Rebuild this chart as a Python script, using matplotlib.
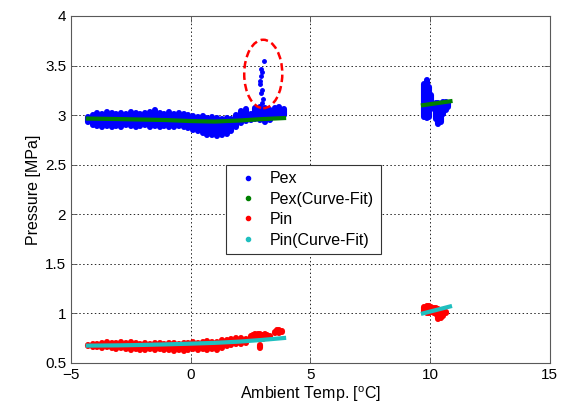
import matplotlib
matplotlib.use("Agg")
import numpy as np
import matplotlib.pyplot as plt
from matplotlib.patches import Ellipse
from matplotlib.lines import Line2D

plt.rcParams['font.family'] = ['Liberation Sans', 'DejaVu Sans']
plt.rcParams['mathtext.fontset'] = 'custom'
plt.rcParams['mathtext.rm'] = 'Liberation Sans'

# Pex measurements: columns of the scatter cloud (x, lower edge, upper edge)
pex_x = [-4.3, -4.1, -3.9, -3.7, -3.5, -3.3, -3.1, -2.9, -2.7, -2.5, -2.3, -2.1,
         -1.9, -1.7, -1.5, -1.3, -1.1, -0.9, -0.7, -0.5, -0.3, -0.1, 0.1, 0.3,
         0.5, 0.7, 0.9, 1.1, 1.3, 1.5, 1.7, 1.9, 2.1, 2.3, 2.5, 2.7, 2.9, 3.1,
         3.3, 3.5, 3.7, 3.9,
         9.75, 9.85, 9.95, 10.05, 10.15, 10.25, 10.35, 10.45, 10.55, 10.65, 10.75]
pex_lo = [2.93, 2.90, 2.89, 2.88, 2.89, 2.88, 2.89, 2.88, 2.90, 2.89, 2.88, 2.89,
          2.90, 2.88, 2.89, 2.88, 2.89, 2.88, 2.88, 2.89, 2.88, 2.87, 2.85, 2.84,
          2.82, 2.80, 2.80, 2.79, 2.80, 2.81, 2.84, 2.88, 2.92, 2.94, 2.95, 2.96,
          2.95, 2.93, 2.95, 2.98, 2.98, 3.00,
          2.98, 2.97, 2.98, 3.06, 3.07, 2.96, 2.91, 2.93, 3.01, 3.05, 3.08]
pex_hi = [2.98, 3.00, 3.02, 3.01, 3.03, 3.02, 3.01, 3.02, 3.01, 3.03, 3.02, 3.01,
          3.02, 3.03, 3.05, 3.02, 3.01, 3.03, 3.01, 3.02, 3.01, 3.00, 2.99, 2.98,
          2.99, 2.97, 2.98, 2.97, 2.96, 2.97, 2.96, 3.00, 3.04, 3.06, 3.01, 3.07,
          3.08, 3.07, 3.05, 3.07, 3.08, 3.06,
          3.31, 3.35, 3.28, 3.20, 3.11, 3.12, 3.12, 3.11, 3.13, 3.13, 3.12]

# Pex outliers (circled)
pex_out_x = [3.06, 2.95, 2.97, 2.94, 2.90, 2.88, 2.97, 2.95, 3.00, 2.97]
pex_out_y = [3.55, 3.47, 3.43, 3.39, 3.34, 3.31, 3.25, 3.22, 3.16, 3.12]

# Pex curve fit
pexfit_x = [-4.3, -3.0, -2.0, -1.0, 0.0, 1.0, 2.0, 3.0, 3.9, np.nan, 9.7, 10.85]
pexfit_y = [2.965, 2.96, 2.955, 2.95, 2.94, 2.935, 2.945, 2.96, 2.97, np.nan, 3.10, 3.14]

# Pin measurements
pin_x = [-4.3, -4.1, -3.9, -3.7, -3.5, -3.3, -3.1, -2.9, -2.7, -2.5, -2.3, -2.1,
         -1.9, -1.7, -1.5, -1.3, -1.1, -0.9, -0.7, -0.5, -0.3, -0.1, 0.1, 0.3,
         0.5, 0.7, 0.9, 1.1, 1.3, 1.5, 1.7, 1.9, 2.1, 2.3,
         2.5, 2.6, 2.7, 2.8, 2.9, 3.0, 3.1, 3.2, 3.3, 2.9, 3.5, 3.6, 3.7, 3.8,
         9.75, 9.85, 9.95, 10.05, 10.15, 10.25, 10.35, 10.45, 10.55, 10.65]
pin_lo = [0.67, 0.66, 0.66, 0.65, 0.66, 0.65, 0.64, 0.65, 0.64, 0.63, 0.64, 0.63,
          0.63, 0.64, 0.63, 0.64, 0.63, 0.63, 0.62, 0.63, 0.62, 0.63, 0.64, 0.63,
          0.64, 0.63, 0.64, 0.63, 0.65, 0.67, 0.68, 0.69, 0.69, 0.70,
          0.75, 0.74, 0.75, 0.76, 0.75, 0.74, 0.75, 0.76, 0.76, 0.65, 0.80, 0.81, 0.80, 0.81,
          1.01, 1.00, 1.00, 1.01, 1.00, 0.99, 0.94, 0.95, 0.97, 1.00]
pin_hi = [0.68, 0.69, 0.69, 0.70, 0.71, 0.70, 0.70, 0.71, 0.70, 0.71, 0.70, 0.69,
          0.70, 0.69, 0.70, 0.70, 0.69, 0.70, 0.70, 0.69, 0.70, 0.70, 0.71, 0.70,
          0.71, 0.72, 0.71, 0.71, 0.73, 0.73, 0.74, 0.75, 0.75, 0.74,
          0.77, 0.78, 0.79, 0.79, 0.79, 0.78, 0.79, 0.78, 0.77, 0.68, 0.81, 0.83, 0.83, 0.82,
          1.06, 1.07, 1.07, 1.06, 1.05, 1.05, 1.04, 1.03, 1.02, 1.01]

# Pin curve fit
pinfit_x = [-4.3, -3.0, -2.0, -1.0, 0.0, 1.0, 2.0, 3.0, 3.9, np.nan, 9.7, 10.83]
pinfit_y = [0.675, 0.678, 0.682, 0.688, 0.695, 0.703, 0.715, 0.733, 0.752, np.nan, 1.00, 1.07]

# Circled outlier region
circ_center = (3.03, 3.415)
circ_w, circ_h = 1.59, 0.69

blue, green, red, cyan = '#0000ff', '#008000', '#ff0000', '#1fbfbf'

fig = plt.figure(figsize=(5.68, 4.09), dpi=100)
ax = fig.add_axes([0.125, 0.1125, 0.843, 0.8485])

ax.vlines(pex_x, pex_lo, pex_hi, colors=blue, lw=4.4, capstyle='round', zorder=2)
ax.plot(pex_out_x, pex_out_y, '.', color=blue, ms=5, zorder=2)
ax.plot(pexfit_x, pexfit_y, '-', color=green, lw=3, zorder=3)
ax.vlines(pin_x, pin_lo, pin_hi, colors=red, lw=4.4, capstyle='round', zorder=2)
ax.plot(pinfit_x, pinfit_y, '-', color=cyan, lw=3, zorder=3)

ax.add_patch(Ellipse(circ_center, circ_w, circ_h, fill=False, ec=red,
                     lw=1.8, ls=(0, (3, 1.6)), zorder=4))

ax.set_xlim(-5, 15)
ax.set_ylim(0.5, 4)
ax.set_xticks([-5, 0, 5, 10, 15])
ax.set_yticks([0.5, 1, 1.5, 2, 2.5, 3, 3.5, 4])
ax.set_yticklabels(['0.5', '1', '1.5', '2', '2.5', '3', '3.5', '4'])
ax.tick_params(direction='in', top=True, right=True, length=4, width=0.6,
               labelsize=11, color='0.3')
ax.grid(True, color='0.15', ls=(0, (1.5, 2.5)), lw=0.7)
for s in ax.spines.values():
    s.set_color('0.35')
    s.set_linewidth(0.8)

ax.set_xlabel(r'Ambient Temp. [$^{\rm o}$C]', fontsize=11.5, labelpad=2)
ax.set_ylabel('Pressure [MPa]', fontsize=11.5, labelpad=3)

handles = [Line2D([], [], ls='none', marker='.', ms=6, color=c)
           for c in (blue, green, red, cyan)]
leg = ax.legend(handles, ['Pex', 'Pex(Curve-Fit)', 'Pin', 'Pin(Curve-Fit)'],
                loc='upper left', bbox_to_anchor=(0.324, 0.571), fontsize=11.5,
                fancybox=False, framealpha=1, edgecolor='0.2',
                handlelength=1.95, handletextpad=0.4, labelspacing=0.34,
                borderpad=0.4, borderaxespad=0.0)
leg.get_frame().set_linewidth(0.8)

fig.savefig('out.png', dpi=100)
